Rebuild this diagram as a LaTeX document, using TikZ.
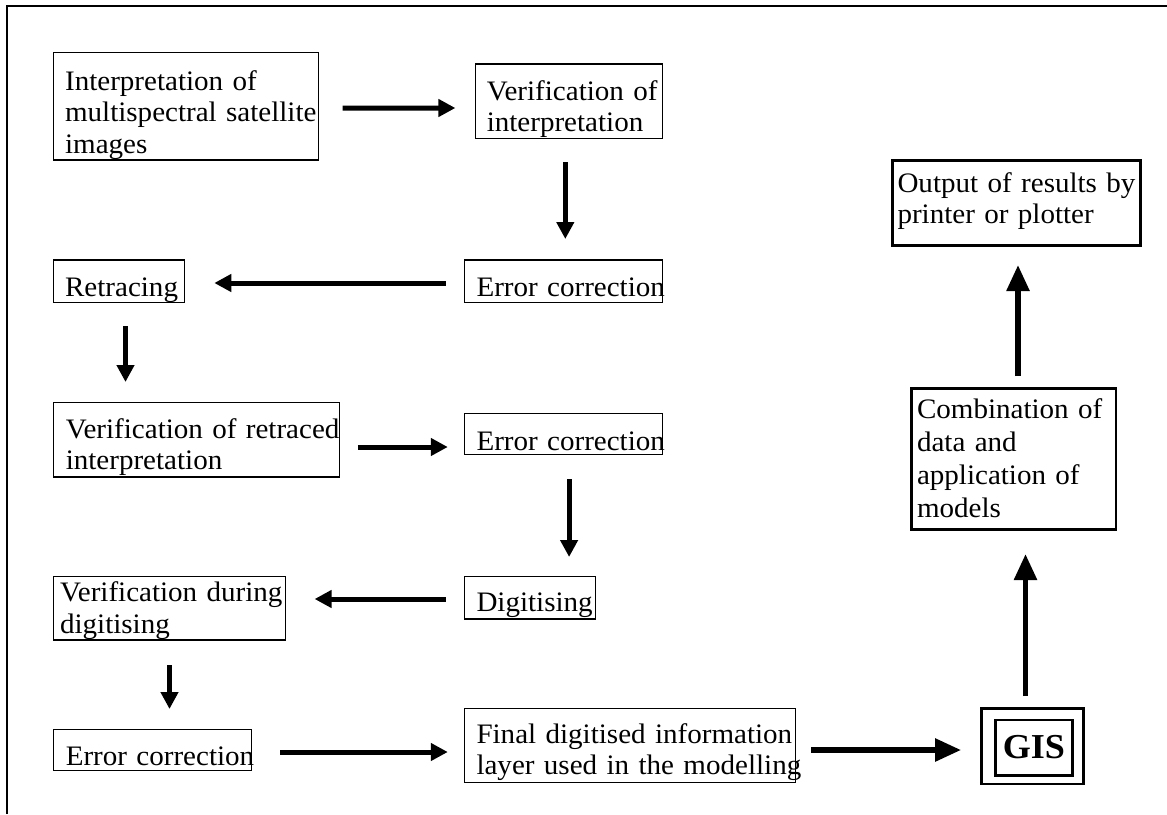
\documentclass[tikz,border=0pt]{standalone}
\usepackage{fontspec}
\setmainfont{Liberation Serif}[FakeStretch=1.03]
\usetikzlibrary{arrows.meta,calc}
\newcommand\boxlines[1]{\begin{tabular}[t]{@{}l@{}}#1\end{tabular}}
\begin{document}
\begin{tikzpicture}[x=1pt,y=-1pt,
  every node/.style={font=\fontsize{28.2}{31.5}\selectfont},
  bx/.style={draw, line width=1.1pt, inner ysep=0pt, outer sep=0pt, anchor=north west, align=left},
  thickbx/.style={bx, line width=2.5pt},
  arr/.style={line width=5pt, -{Triangle[length=17pt,width=17pt]}},
  bigarr/.style={line width=5.5pt, -{Triangle[length=26pt,width=22pt]}}]
\useasboundingbox (0,0) rectangle (1167,814);
% frame
\draw[line width=2.5pt] (6.9,814) -- (6.9,6) -- (1167,6);
% boxes
\node[bx, inner xsep=11.5pt, text width=241.8pt, text height=37.3pt, text depth=70pt] (b1) at (53.6,52.7)
  {\boxlines{Interpretation of\\multispectral satellite\\images}};
\node[bx, inner xsep=11.5pt, text width=164.1pt, text height=36.3pt, text depth=38pt] (b2) at (475.3,64)
  {\boxlines{Verification of\\interpretation}};
\node[bx, inner xsep=12.3pt, text width=173.6pt, text height=36.7pt, text depth=5.6pt] (b3) at (464.2,260)
  {\boxlines{Error correction}};
\node[bx, inner xsep=11.5pt, text width=108.2pt, text height=36.7pt, text depth=5.6pt] (b4) at (53.6,260)
  {\boxlines{Retracing}};
\node[bx, inner xsep=12.2pt, text width=261.5pt, text height=36pt, text depth=38.7pt] (b5) at (53.6,402.3)
  {\boxlines{Verification of retraced\\interpretation}};
\node[bx, inner xsep=12.3pt, text width=173.6pt, text height=36.7pt, text depth=4.3pt] (b6) at (464.2,413.3)
  {\boxlines{Error correction}};
\node[bx, inner xsep=12.3pt, text width=107.1pt, text height=35pt, text depth=7.3pt] (b7) at (464.2,576.7)
  {\boxlines{Digitising}};
\node[bx, inner xsep=6.5pt, text width=218.5pt, text height=25pt, text depth=38.3pt] (b8) at (53.6,576.7)
  {\boxlines{Verification during\\digitising}};
\node[bx, inner xsep=12.2pt, text width=173.4pt, text height=36.4pt, text depth=5pt] (b9) at (53.6,729.3)
  {\boxlines{Error correction}};
\node[bx, inner xsep=12.3pt, text width=306.5pt, text height=35pt, text depth=39pt] (b10) at (464.2,708.3)
  {\boxlines{Final digitised information\\layer used in the modelling}};
\node[thickbx, inner xsep=4.9pt, text width=238.1pt, text height=31.5pt, text depth=53.5pt] (out) at (892.6,160.7)
  {\boxlines{Output of results by\\printer or plotter}};
\node[thickbx, inner xsep=5.7pt, text width=193.4pt, text height=30.5pt, text depth=110.5pt,
  font=\fontsize{28.2}{32.8}\selectfont] (comb) at (911.3,388.3)
  {\boxlines{Combination of\\data and\\application of\\models}};
\node[thickbx, inner sep=0pt, minimum width=102.3pt, minimum height=75.7pt] (gis) at (981.3,708.3) {};
\node[thickbx, inner sep=0pt, minimum width=76.7pt, text height=38.3pt, text depth=17.4pt,
  font=\fontsize{35}{40}\selectfont\bfseries, align=center] (gisin) at (995.6,720) {GIS};
% arrows
\draw[arr] ($(b1.east)+(24.1,1.65)$) -- ($(b2.west)+(-19.9,6.85)$);
\draw[arr] ($(b2.south)+(-3.55,23.7)$) -- ($(b3.north)+(2,-21)$);
\draw[arr] ($(b3.west)+(-18.4,1.85)$) -- ($(b4.east)+(29.5,1.85)$);
\draw[arr] ($(b4.south)+(6.3,23.7)$) -- ($(b5.north)+(-71.05,-20.3)$);
\draw[arr] ($(b5.east)+(18.3,7.35)$) -- ($(b6.west)+(-16.4,13.2)$);
\draw[arr] ($(b6.south)+(5.8,24.7)$) -- ($(b7.north)+(39.05,-19.7)$);
\draw[arr] ($(b7.west)+(-18.4,1.15)$) -- ($(b8.east)+(29.5,-9.35)$);
\draw[arr] ($(b8.south)+(0.15,25)$) -- ($(b9.north)+(17,-20.3)$);
\draw[arr] ($(b9.east)+(28.7,2)$) -- ($(b10.west)+(-16.4,6.7)$);
\draw[bigarr] ($(b10.east)+(16.1,4.7)$) -- ($(gis.west)+(-20.2,3.85)$);
\draw[bigarr] ($(gis.north)+(-6.95,-12.3)$) -- ($(comb.south)+(11.8,24.7)$);
\draw[bigarr] ($(comb.north)+(4.3,-12.3)$) -- ($(out.south)+(1.45,19.3)$);
\end{tikzpicture}
\end{document}
